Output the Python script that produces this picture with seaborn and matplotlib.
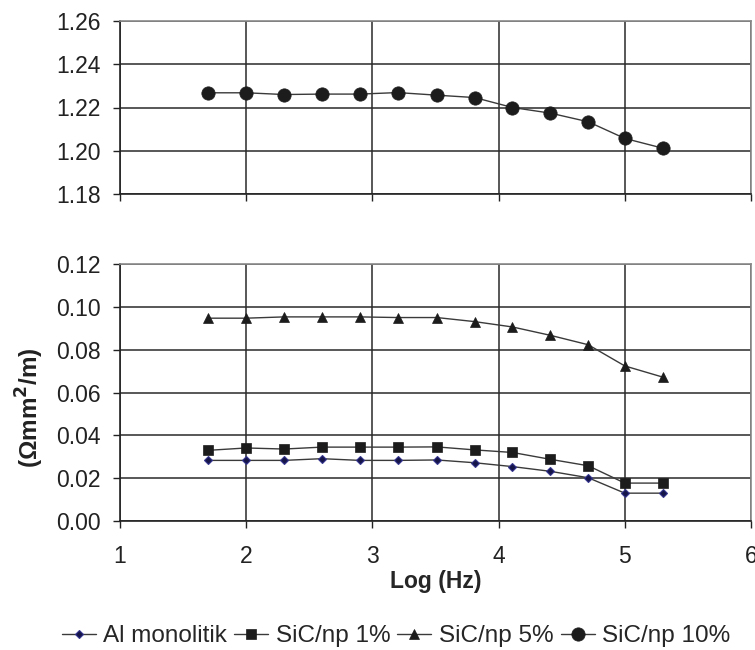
import matplotlib
matplotlib.use("Agg")
import matplotlib.pyplot as plt
import seaborn as sns
import pandas as pd

# Resistivity versus log frequency for the four materials
log_hz = [1.70, 2.00, 2.30, 2.60, 2.90, 3.20, 3.51, 3.81, 4.11, 4.41, 4.71, 5.00, 5.30]
al_monolitik = [0.0283, 0.0283, 0.0283, 0.0291, 0.0283, 0.0283, 0.0285,
                0.0272, 0.0254, 0.0232, 0.0202, 0.0130, 0.0130]
sic_np_1 = [0.0330, 0.0341, 0.0336, 0.0345, 0.0345, 0.0345, 0.0346,
            0.0332, 0.0320, 0.0288, 0.0258, 0.0177, 0.0177]
sic_np_5 = [0.0947, 0.0947, 0.0953, 0.0953, 0.0953, 0.0950, 0.0950,
            0.0931, 0.0906, 0.0867, 0.0823, 0.0724, 0.0672]
sic_np_10 = [1.2268, 1.2268, 1.2260, 1.2262, 1.2262, 1.2269, 1.2257,
             1.2246, 1.2200, 1.2174, 1.2134, 1.2057, 1.2012]

series_names = ["Al monolitik", "SiC/np 1%", "SiC/np 5%", "SiC/np 10%"]
series_values = [al_monolitik, sic_np_1, sic_np_5, sic_np_10]

x_ticks = [1, 2, 3, 4, 5, 6]
top_yticks = [1.18, 1.20, 1.22, 1.24, 1.26]
bottom_yticks = [0.00, 0.02, 0.04, 0.06, 0.08, 0.10, 0.12]

df = pd.concat(
    [pd.DataFrame({"log_hz": log_hz, "rho": vals, "series": name})
     for name, vals in zip(series_names, series_values)],
    ignore_index=True,
)

sns.set_style("white")
plt.rcParams["font.family"] = ["Liberation Sans", "DejaVu Sans"]
plt.rcParams["font.size"] = 16

styles = {
    "Al monolitik": dict(marker="D", markersize=4.4, markerfacecolor="#15154a",
                         markeredgecolor="#35358f", markeredgewidth=0.8),
    "SiC/np 1%": dict(marker="s", markersize=7.2, markerfacecolor="#1c1c1c",
                      markeredgecolor="#1c1c1c", markeredgewidth=0.5),
    "SiC/np 5%": dict(marker="^", markersize=7.4, markerfacecolor="#1c1c1c",
                      markeredgecolor="#1c1c1c", markeredgewidth=0.5),
    "SiC/np 10%": dict(marker="o", markersize=9.6, markerfacecolor="#1c1c1c",
                       markeredgecolor="#1c1c1c", markeredgewidth=0.5),
}

W, H = 755, 650
fig = plt.figure(figsize=(W / 100, H / 100), dpi=100)
fig.patch.set_facecolor("white")

left, right = 120, 751
ax_top = fig.add_axes([left / W, 1 - 194 / H, (right - left) / W, (194 - 21) / H])
ax_bot = fig.add_axes([left / W, 1 - 521 / H, (right - left) / W, (521 - 264) / H])

for name in series_names:
    ax = ax_top if name == "SiC/np 10%" else ax_bot
    sns.lineplot(data=df[df["series"] == name], x="log_hz", y="rho", ax=ax,
                 estimator=None, sort=False, color="#3a3a3a", linewidth=1.0,
                 label=name, **styles[name])

grid_color = "#2a2a2a"
for ax, yt in [(ax_top, top_yticks), (ax_bot, bottom_yticks)]:
    ax.set_xlim(x_ticks[0], x_ticks[-1])
    ax.set_ylim(yt[0], yt[-1])
    ax.set_xticks(x_ticks)
    ax.set_yticks(yt)
    ax.set_yticklabels([f"{v:.2f}" for v in yt])
    ax.grid(True, color=grid_color, linewidth=1.1)
    ax.set_axisbelow(True)
    ax.tick_params(axis="y", direction="out", length=5, width=1.0, color="#222222",
                   pad=9, labelsize=16.5, labelcolor="#222222", left=True)
    ax.tick_params(axis="x", direction="out", length=5, width=1.0, color="#222222",
                   pad=12, labelsize=16.5, labelcolor="#222222", bottom=True)
    for side in ["left", "bottom"]:
        ax.spines[side].set_color("#222222")
        ax.spines[side].set_linewidth(1.2)
    for side in ["top", "right"]:
        ax.spines[side].set_color("#8a8a8a")
        ax.spines[side].set_linewidth(1.2)
    ax.set_xlabel("")
    ax.set_ylabel("")

ax_top.set_xticklabels([])
ax_bot.set_xticklabels([str(t) for t in x_ticks])
ax_bot.set_xlabel("Log (Hz)", fontsize=16.5, fontweight="bold", labelpad=2)

fig.text(30 / W, 1 - 408 / H, "(Ωmm$^{\\mathbf{2}}$/m)", rotation=90, ha="center",
         va="center", fontsize=17.5, fontweight="bold", color="#222222")

handles, labels = [], []
for ax in (ax_bot, ax_top):
    h, l = ax.get_legend_handles_labels()
    handles += h
    labels += l
    if ax.get_legend() is not None:
        ax.get_legend().remove()

fig.legend(handles, labels, loc="center", bbox_to_anchor=(396 / W, 1 - 636 / H),
           ncol=4, frameon=False, fontsize=17.5, handlelength=1.4,
           handletextpad=0.3, columnspacing=0.3, borderaxespad=0)

fig.savefig("out.png", dpi=100, facecolor="white")
